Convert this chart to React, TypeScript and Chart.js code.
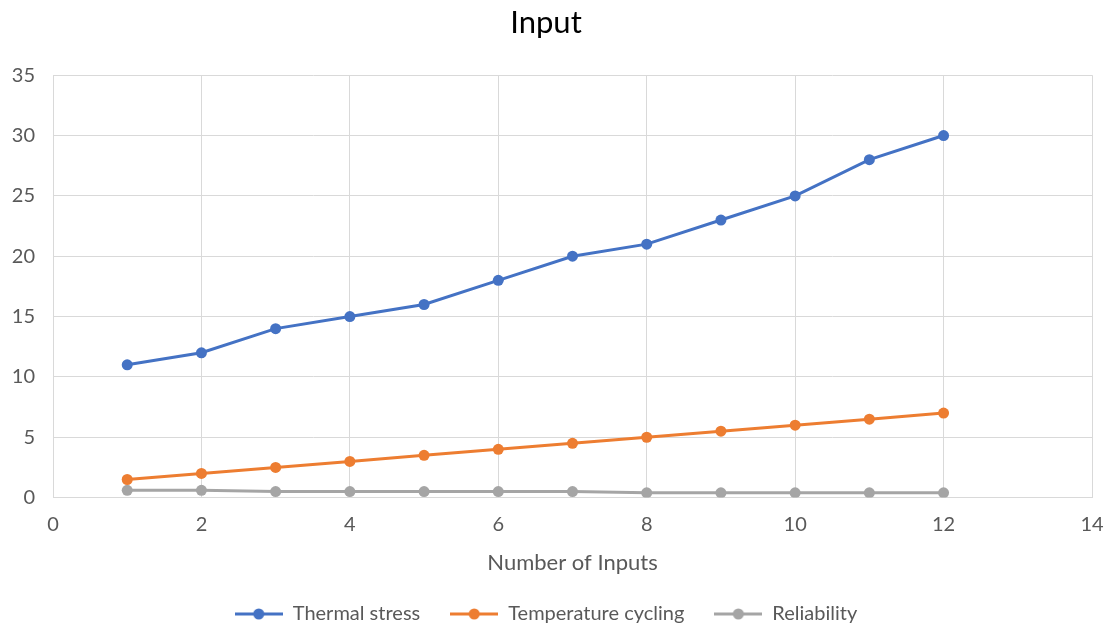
import React, { useEffect, useRef } from "react";
import { Chart, registerables } from "chart.js";
Chart.register(...registerables);

const xValues = [1, 2, 3, 4, 5, 6, 7, 8, 9, 10, 11, 12];
const thermalStress = [11, 12, 14, 15, 16, 18, 20, 21, 23, 25, 28, 30];
const temperatureCycling = [1.5, 2, 2.5, 3, 3.5, 4, 4.5, 5, 5.5, 6, 6.5, 7];
const reliability = [0.6, 0.6, 0.5, 0.5, 0.5, 0.5, 0.5, 0.4, 0.4, 0.4, 0.4, 0.4];
const seriesNames = ["Thermal stress", "Temperature cycling", "Reliability"];
const seriesColors = ["#4472C4", "#ED7D31", "#A5A5A5"];
const FONT = "Lato, 'Open Sans', sans-serif";
const TEXT = "#595959";

function legendIcon(color: string) {
  const c = document.createElement("canvas");
  c.width = 48;
  c.height = 14;
  const ctx = c.getContext("2d")!;
  ctx.strokeStyle = color;
  ctx.lineWidth = 3;
  ctx.beginPath();
  ctx.moveTo(0, 7);
  ctx.lineTo(48, 7);
  ctx.stroke();
  ctx.fillStyle = color;
  ctx.beginPath();
  ctx.arc(24, 7, 5.5, 0, Math.PI * 2);
  ctx.fill();
  return c;
}

export default function App() {
  const ref = useRef<HTMLCanvasElement>(null);
  useEffect(() => {
    const series = [thermalStress, temperatureCycling, reliability];
    const icons = seriesColors.map(legendIcon);
    const chart = new Chart(ref.current!, {
      type: "line",
      data: {
        datasets: series.map((s, i) => ({
          label: seriesNames[i],
          data: s.map((v, j) => ({ x: xValues[j], y: v })),
          borderColor: seriesColors[i],
          backgroundColor: seriesColors[i],
          borderWidth: 3,
          pointRadius: 5.5,
          pointHoverRadius: 5.5,
          pointBorderWidth: 0,
          tension: 0,
        })),
      },
      options: {
        animation: false,
        responsive: false,
        maintainAspectRatio: false,
        layout: { padding: { left: 0, right: 17, top: 0, bottom: -10 } },
        plugins: {
          title: {
            display: true,
            text: "Input",
            color: "#000",
            font: { family: FONT, size: 31, weight: "normal" },
            padding: { top: 4, bottom: 34 },
          },
          legend: {
            position: "bottom",
            labels: {
              usePointStyle: true,
              pointStyleWidth: 48,
              color: TEXT,
              font: { family: FONT, size: 20 },
              padding: 30,
              generateLabels: (ch: any) =>
                ch.data.datasets.map((d: any, i: number) => ({
                  text: d.label,
                  fillStyle: d.borderColor,
                  strokeStyle: d.borderColor,
                  pointStyle: icons[i],
                  datasetIndex: i,
                  hidden: false,
                  lineWidth: 0,
                  fontColor: TEXT,
                })),
            },
          },
          tooltip: { enabled: false },
        },
        scales: {
          x: {
            type: "linear",
            min: 0,
            max: 14,
            ticks: { stepSize: 2, color: TEXT, font: { family: FONT, size: 20 }, padding: 4 },
            grid: { color: "#D9D9D9", drawTicks: true, tickLength: 11, tickColor: "rgba(0,0,0,0)" },
            border: { color: "#D9D9D9" },
            title: {
              display: true,
              text: "Number of Inputs",
              color: TEXT,
              font: { family: FONT, size: 22 },
              padding: { top: 9, bottom: -2 },
            },
          },
          y: {
            min: 0,
            max: 35,
            afterFit: (scale: any) => {
              scale.width = 53;
            },
            ticks: { stepSize: 5, color: TEXT, font: { family: FONT, size: 20 }, padding: 18 },
            grid: { color: "#D9D9D9", drawTicks: false },
            border: { color: "#D9D9D9" },
          },
        },
      },
    });
    return () => chart.destroy();
  }, []);
  return (
    <div style={{ position: "absolute", left: 0, top: 0, width: 1109, height: 624, background: "#fff" }}>
      <canvas ref={ref} width={1109} height={624} />
    </div>
  );
}
